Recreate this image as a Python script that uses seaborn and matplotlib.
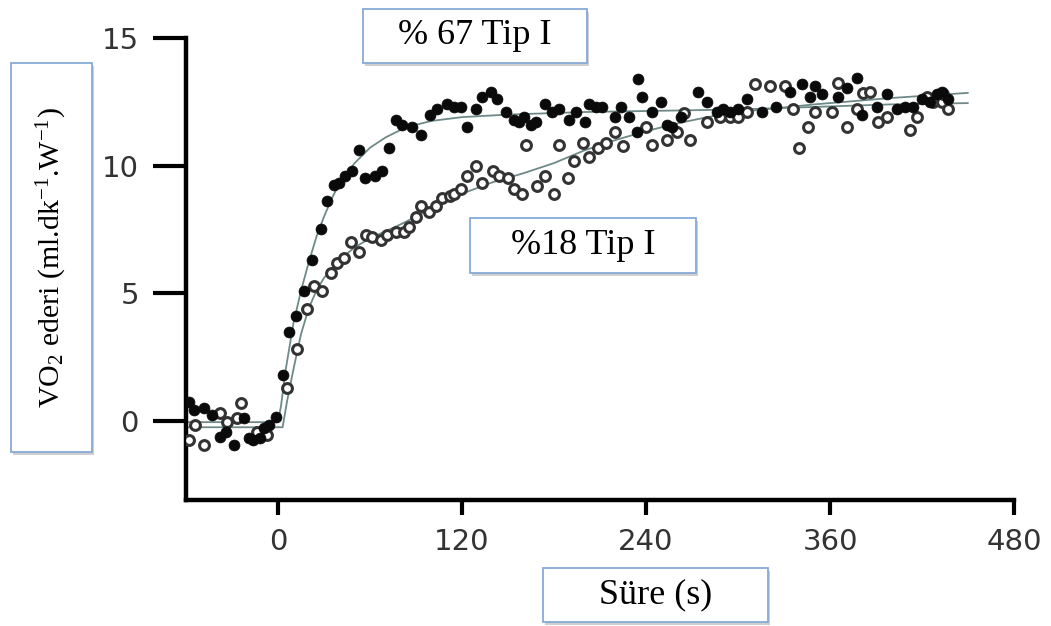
import numpy as np
import pandas as pd
import matplotlib
matplotlib.use("Agg")
import matplotlib.pyplot as plt
from matplotlib.patches import Rectangle
import seaborn as sns

# ---------------- data ----------------
t_67 = [-58, -55, -48, -43, -38, -34, -29, -22, -19, -16, -12, -9, -6, -1,
        3, 7, 12, 17, 22, 28, 32, 36.5, 40, 44, 48, 52.5, 57, 63, 68, 72.5,
        77, 81, 87.5, 93, 99, 104, 110, 115, 119.5, 123.5, 129, 133, 139, 143,
        149, 154, 157, 160.5, 165, 168, 174, 179, 183.5, 190, 194.6, 200, 203,
        207.7, 211.6, 219.5, 224, 229, 234, 234.5, 237.7, 244, 250, 254, 257,
        263, 274, 279.5, 286, 290, 295, 300, 305.7, 315.5, 325, 334, 341.6,
        347, 350, 355, 365, 371, 377.5, 380.8, 390.6, 397, 403.7, 409, 414,
        420, 425, 430, 433, 437]
v_67 = [0.75, 0.43, 0.5, 0.24, -0.63, -0.43, -0.94, 0.12, -0.67, -0.75, -0.67, -0.27, -0.16, 0.16,
        1.8, 3.5, 4.1, 5.1, 6.3, 7.5, 8.6, 9.25, 9.3, 9.6, 9.8, 10.6, 9.5, 9.6, 9.8, 10.7,
        11.8, 11.6, 11.5, 11.2, 12.0, 12.2, 12.4, 12.3, 12.3, 11.5, 12.2, 12.7, 12.9, 12.6,
        12.1, 11.8, 11.7, 11.9, 11.6, 11.7, 12.4, 12.1, 12.2, 11.8, 12.1, 11.7, 12.4,
        12.3, 12.3, 11.9, 12.3, 11.9, 11.3, 13.4, 12.7, 12.1, 12.5, 11.6, 11.5,
        11.9, 12.9, 12.5, 12.1, 12.2, 12.1, 12.2, 12.6, 12.1, 12.3, 12.9, 13.2,
        12.7, 13.1, 12.8, 12.7, 13.05, 13.45, 12.0, 12.3, 12.8, 12.2, 12.3, 12.3,
        12.6, 12.5, 12.8, 12.9, 12.6]

t_18 = [-58, -54, -48, -38, -33, -27, -24, -14, -7,
        6, 12.5, 19, 23.5, 29, 34.5, 38.5, 43, 47.7, 53, 57.5, 61.5, 67, 71, 77,
        82, 85.5, 90, 93.5, 98.6, 103, 107, 112, 115, 119.5, 123.5, 129, 133, 140,
        144, 150, 154, 159, 162, 169, 174, 180, 183.5, 189, 193, 198.6, 203, 208.6,
        214, 219.5, 224.7, 240, 244, 254, 260, 265, 268.5, 279.5, 288, 295, 300,
        305.7, 311, 320.7, 330.5, 335.7, 340, 345.5, 350, 361, 365, 371, 377.5,
        381.5, 386, 391, 397, 412, 416.7, 423, 427, 433, 433.7, 437]
v_18 = [-0.75, -0.16, -0.94, 0.31, -0.04, 0.12, 0.7, -0.43, -0.55,
        1.3, 2.8, 4.4, 5.3, 5.1, 5.8, 6.2, 6.4, 7.0, 6.6, 7.3, 7.2, 7.1, 7.3, 7.4,
        7.4, 7.6, 8.0, 8.4, 8.2, 8.4, 8.75, 8.8, 8.9, 9.1, 9.6, 10.0, 9.3, 9.8,
        9.6, 9.5, 9.1, 8.9, 10.8, 9.2, 9.6, 8.9, 10.8, 9.5, 10.2, 10.9, 10.35, 10.7,
        10.9, 11.3, 10.75, 11.5, 10.8, 11.0, 11.3, 12.05, 11.0, 11.7, 11.9, 11.9, 11.9,
        12.1, 13.2, 13.1, 13.1, 12.2, 10.7, 11.5, 12.1, 12.1, 13.25, 11.5, 12.2,
        12.85, 12.9, 11.7, 11.9, 11.4, 11.9, 12.7, 12.5, 12.5, 12.8, 12.2]

# fitted response curves
fit67_t = [-60, -5, 0, 2, 5, 10, 15, 20, 25, 30, 35, 40, 50, 60, 70, 80, 90, 100,
           120, 150, 200, 250, 300, 350, 400, 450]
fit67_v = [-0.05, -0.05, -0.05, 0.6, 2.0, 3.8, 5.1, 6.2, 7.2, 8.0, 8.7, 9.3, 10.1,
           10.7, 11.1, 11.4, 11.6, 11.75, 11.9, 12.0, 12.1, 12.15, 12.2, 12.3, 12.4, 12.45]
fit18_t = [-60, 3, 6, 10, 15, 20, 25, 30, 40, 50, 60, 80, 100, 120, 140, 160, 180,
           200, 220, 240, 260, 280, 300, 350, 400, 450]
fit18_v = [-0.25, -0.25, 0.8, 2.0, 3.4, 4.4, 5.1, 5.6, 6.3, 6.8, 7.15, 7.7, 8.3, 8.9,
           9.35, 9.7, 10.1, 10.6, 11.0, 11.35, 11.65, 11.9, 12.1, 12.4, 12.65, 12.85]

x_ticks = [0, 120, 240, 360, 480]
y_ticks = [0, 5, 10, 15]
label_67 = "% 67 Tip I"
label_18 = "%18 Tip I"
x_label = "Süre (s)"
y_label = r"VO$_\mathrm{2}$ ederi (ml.dk$^{\mathrm{-1}}$.W$^{\mathrm{-1}}$)"

# ---------------- style ----------------
sns.set_style("ticks")
plt.rcParams["font.family"] = ["DejaVu Sans"]
plt.rcParams["mathtext.fontset"] = "custom"
plt.rcParams["mathtext.rm"] = "Liberation Serif"
plt.rcParams["mathtext.it"] = "Liberation Serif:italic"
plt.rcParams["mathtext.bf"] = "Liberation Serif:bold"

W, H = 1051, 626
fig = plt.figure(figsize=(W / 100, H / 100), dpi=100)
fig.patch.set_facecolor("white")
ax = fig.add_axes([186 / W, 1 - 500 / H, 828 / W, 462 / H])

df67 = pd.DataFrame({"t": t_67, "v": v_67})
df18 = pd.DataFrame({"t": t_18, "v": v_18})
f67 = pd.DataFrame({"t": fit67_t, "v": fit67_v})
f18 = pd.DataFrame({"t": fit18_t, "v": fit18_v})

line_col = "#6e8a88"
sns.lineplot(data=f18, x="t", y="v", ax=ax, color=line_col, lw=1.3,
             sort=False, estimator=None, zorder=2)
sns.lineplot(data=f67, x="t", y="v", ax=ax, color=line_col, lw=1.3,
             sort=False, estimator=None, zorder=2)
sns.scatterplot(data=df18, x="t", y="v", ax=ax, marker="o", s=50,
                facecolor="white", edgecolor="#333333", linewidth=2.2, zorder=3)
sns.scatterplot(data=df67, x="t", y="v", ax=ax, marker="o", s=62,
                color="#0a0a0a", edgecolor="#0a0a0a", linewidth=0.5, zorder=4)

ax.set_xlim(-60, 480)
ax.set_ylim(-3.1, 15)
ax.set_xticks(x_ticks)
ax.set_yticks(y_ticks)
ax.set_xlabel("")
ax.set_ylabel("")
for s in ["top", "right"]:
    ax.spines[s].set_visible(False)
for s in ["left", "bottom"]:
    ax.spines[s].set_linewidth(3.2)
    ax.spines[s].set_color("black")
    ax.spines[s].set_capstyle("projecting")
ax.tick_params(axis="y", length=24, width=3, color="black", pad=10,
               labelsize=21, labelcolor="#333333")
ax.tick_params(axis="x", length=11, width=3, color="black", pad=9,
               labelsize=21, labelcolor="#333333")

# ---------------- text boxes ----------------
def box(x0, y0, x1, y1, text, rotation=0, size=26):
    shadow = Rectangle((x0 / W + 2 / W, 1 - (y1 + 3) / H), (x1 - x0) / W, (y1 - y0) / H,
                       transform=fig.transFigure, facecolor="#cfcfcf", edgecolor="none",
                       zorder=5)
    rect = Rectangle((x0 / W, 1 - y1 / H), (x1 - x0) / W, (y1 - y0) / H,
                     transform=fig.transFigure, facecolor="white", edgecolor="#86aad8",
                     linewidth=1.3, zorder=6)
    fig.patches.extend([shadow, rect])
    fig.text((x0 + x1) / 2 / W, 1 - (y0 + y1) / 2 / H, text, rotation=rotation,
             ha="center", va="center", fontsize=size, color="black",
             family=["Liberation Serif", "DejaVu Serif"], zorder=7)

box(363, 9, 587, 63, label_67)
box(470, 218, 696, 273, label_18)
box(543, 568, 768, 622, x_label)
box(11, 63, 92, 452, y_label, rotation=90, size=21.5)

fig.savefig("out.png", dpi=100, facecolor="white")
